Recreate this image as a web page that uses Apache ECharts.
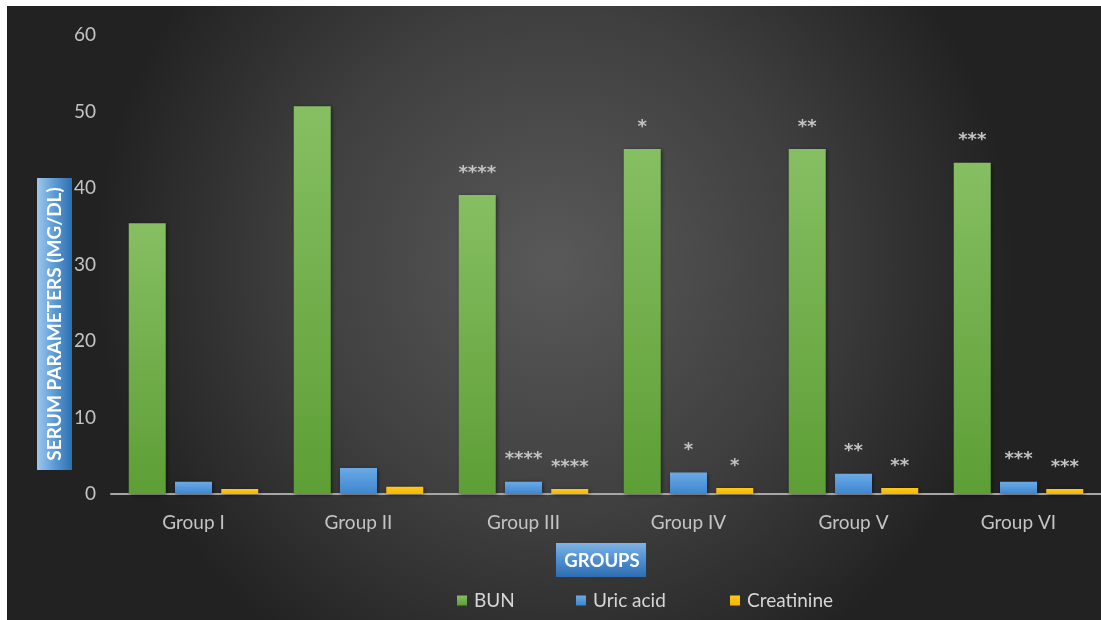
<!DOCTYPE html>
<html>
<head>
<meta charset="utf-8">
<script src="https://cdn.jsdelivr.net/npm/echarts@6/dist/echarts.min.js"></script>
<style>
html,body{margin:0;padding:0;background:#fff;width:1101px;height:620px;overflow:hidden;}
#chart{position:absolute;left:7px;top:6px;width:1094px;height:614px;}
</style>
</head>
<body>
<div id="chart"></div>
<script>
const categories = ['Group I','Group II','Group III','Group IV','Group V','Group VI'];
const bun = [35.4, 50.7, 39.1, 45.1, 45.1, 43.3];
const uricAcid = [1.6, 3.4, 1.6, 2.8, 2.65, 1.6];
const creatinine = [0.65, 0.95, 0.65, 0.8, 0.8, 0.65];
const bunSig = ['', '', '****', '*', '**', '***'];
const uricSig = ['', '', '****', '*', '**', '***'];
const creatSig = ['', '', '****', '*', '**', '***'];
const yTicks = [0, 10, 20, 30, 40, 50, 60];

const chart = echarts.init(document.getElementById('chart'), null, {renderer:'canvas'});
const lbl = (sig) => ({
  show: true, position: 'top', distance: 13,
  formatter: p => sig[p.dataIndex],
  color: '#c4c4c4', fontSize: 18, fontFamily: 'DejaVu Sans', fontWeight: 'bold'
});
const grad = (c1, c2) => new echarts.graphic.LinearGradient(0,0,0,1,[{offset:0,color:c1},{offset:1,color:c2}]);
const barStyle = (c1, c2) => ({color: grad(c1,c2), shadowBlur: 4, shadowColor: 'rgba(0,0,0,0.5)', shadowOffsetX: 1, shadowOffsetY: 1});
const legendText = {color: '#d6d6d6', fontSize: 19, fontFamily: 'Lato', padding:[0,0,0,2]};
const mkLegend = (name, left) => ({
  bottom: 5, left: left, itemWidth: 10, itemHeight: 10, icon: 'rect',
  textStyle: legendText, data: [name], selectedMode: false
});

chart.setOption({
  backgroundColor: {type:'radial', x:0.5, y:0.42, r:0.75, colorStops:[{offset:0,color:'#595959'},{offset:0.55,color:'#3f3f3f'},{offset:1,color:'#222222'}]},
  textStyle: {fontFamily: 'Lato'},
  grid: {left: 104, top: 29, width: 998, height: 459, containLabel: false},
  xAxis: {
    type: 'category', data: categories,
    axisLine: {lineStyle: {color: '#a6a6a6', width: 2}},
    axisTick: {show: false},
    axisLabel: {color: '#c4c4c4', fontSize: 19, margin: 19, fontFamily: 'Lato'}
  },
  yAxis: {
    type: 'value', min: 0, max: 60, interval: 10,
    axisLine: {show: false}, axisTick: {show: false}, splitLine: {show: false},
    axisLabel: {color: '#c4c4c4', fontSize: 19, margin: 15, fontFamily: 'Lato',
      formatter: v => yTicks.includes(v) ? String(v) : ''}
  },
  legend: [mkLegend('BUN', 445), mkLegend('Uric acid', 564), mkLegend('Creatinine', 718)],
  series: [
    {name:'BUN', type:'bar', data: bun, barWidth: 37, barGap: '25%', itemStyle: barStyle('#86bf62','#5d9e35'), label: lbl(bunSig)},
    {name:'Uric acid', type:'bar', data: uricAcid, barWidth: 37, barGap: '25%', itemStyle: barStyle('#6aaae6','#3f86cf'), label: lbl(uricSig)},
    {name:'Creatinine', type:'bar', data: creatinine, barWidth: 37, barGap: '25%', itemStyle: barStyle('#ffc81a','#f5b700'), label: lbl(creatSig)}
  ],
  color: ['#6fb043','#5b9bd5','#ffc000'],
  graphic: [
    {type:'rect', left: 30, top: 172, shape:{width: 35, height: 292},
     style:{fill: new echarts.graphic.LinearGradient(0,0,1,0,[{offset:0,color:'#9cc8ee'},{offset:0.5,color:'#5b9bd5'},{offset:1,color:'#2f6fae'}])}},
    {type:'text', x: 48, y: 318, rotation: Math.PI/2,
     style:{text:'SERUM PARAMETERS (MG/DL)', fill:'#ffffff', font:'bold 19px Lato', align:'center', verticalAlign:'middle'}},
    {type:'rect', left: 549, top: 537, shape:{width: 90, height: 34},
     style:{fill: new echarts.graphic.LinearGradient(0,0,0,1,[{offset:0,color:'#7fb3e6'},{offset:0.5,color:'#4d8fd0'},{offset:1,color:'#2e6db0'}])}},
    {type:'text', x: 595, y: 555,
     style:{text:'GROUPS', fill:'#ffffff', font:'bold 18.5px Lato', align:'center', verticalAlign:'middle'}}
  ]
});
</script>
</body>
</html>
